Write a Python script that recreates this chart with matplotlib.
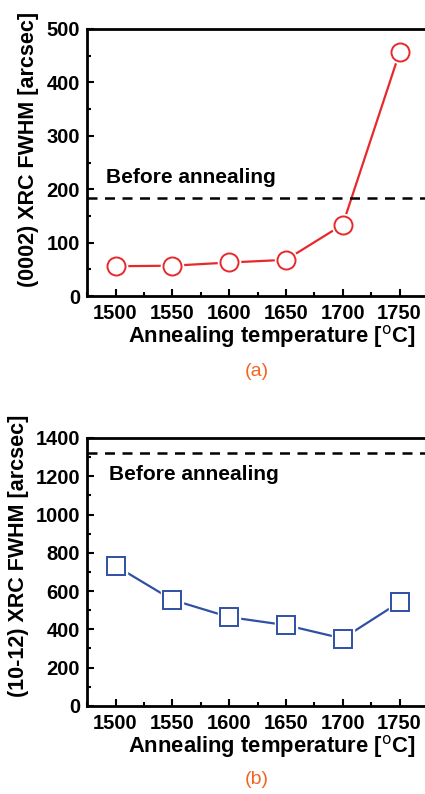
import numpy as np
import matplotlib
matplotlib.use("Agg")
import matplotlib.pyplot as plt
from matplotlib.ticker import MultipleLocator

plt.rcParams['font.family'] = ['Liberation Sans', 'DejaVu Sans']

temp = [1500, 1550, 1600, 1650, 1700, 1750]
fwhm_0002 = [56, 57, 63, 68, 134, 456]
fwhm_1012 = [732, 554, 464, 422, 352, 542]
before_0002 = 183
before_1012 = 1320

fig = plt.figure(figsize=(4.25, 7.94), dpi=100)
axa = fig.add_axes([0.205, 0.627, 0.802, 0.3365])
axb = fig.add_axes([0.205, 0.111, 0.802, 0.3374])


def style(ax, ymax, ymaj, ylabel, ylx, yly):
    ax.set_xlim(1475, 1775)
    ax.set_ylim(0, ymax)
    ax.xaxis.set_major_locator(MultipleLocator(50))
    ax.xaxis.set_minor_locator(MultipleLocator(25))
    ax.yaxis.set_major_locator(MultipleLocator(ymaj))
    ax.yaxis.set_minor_locator(MultipleLocator(ymaj / 2))
    ax.tick_params(which='both', direction='in', width=1.5, labelsize=14.5)
    ax.tick_params(axis='x', pad=6)
    ax.tick_params(axis='y', pad=5)
    ax.tick_params(which='major', length=5)
    ax.tick_params(which='minor', length=3)
    for s in ax.spines.values():
        s.set_linewidth(2)
    ax.set_xlabel("Annealing temperature [$^{\\mathrm{o}}$C]", fontsize=15.8,
                  fontweight='bold', va='center')
    ax.xaxis.set_label_coords(0.54, -0.152)
    ax.set_ylabel(ylabel, fontsize=15.5, fontweight='bold', va='center')
    ax.yaxis.set_label_coords(ylx, yly)
    for lab in ax.get_xticklabels() + ax.get_yticklabels():
        lab.set_fontweight('bold')


# (a)
red = '#e8282a'
axa.plot(temp, fwhm_0002, color=red, lw=1.6, zorder=2)
axa.plot(temp, fwhm_0002, 'o', ms=16, mfc='white', mec='white', zorder=3)
axa.plot(temp, fwhm_0002, 'o', ms=13, mfc='white', mec=red, mew=1.4, zorder=4)
axa.axhline(before_0002, color='black', ls=(0, (4, 3)), lw=1.8)
axa.text(1492, 212, "Before annealing", fontsize=15, fontweight='bold')
style(axa, 500, 100, "(0002) XRC FWHM [arcsec]", -0.173, 0.55)

# (b)
blue = '#3050a5'
axb.plot(temp, fwhm_1012, color=blue, lw=1.6, zorder=2)
axb.plot(temp, fwhm_1012, 's', ms=16, mfc='white', mec='white', zorder=3)
axb.plot(temp, fwhm_1012, 's', ms=13, mfc='white', mec=blue, mew=1.4, zorder=4)
axb.axhline(before_1012, color='black', ls=(0, (4, 3)), lw=1.8)
axb.text(1494, 1180, "Before annealing", fontsize=15, fontweight='bold')
style(axb, 1400, 200, "(10-12) XRC FWHM [arcsec]", -0.202, 0.56)

fig.text(0.605, 0.532, "(a)", color='#f26522', fontsize=14, ha='center', va='center')
fig.text(0.605, 0.018, "(b)", color='#f26522', fontsize=14, ha='center', va='center')

fig.savefig("out.png", dpi=100)
